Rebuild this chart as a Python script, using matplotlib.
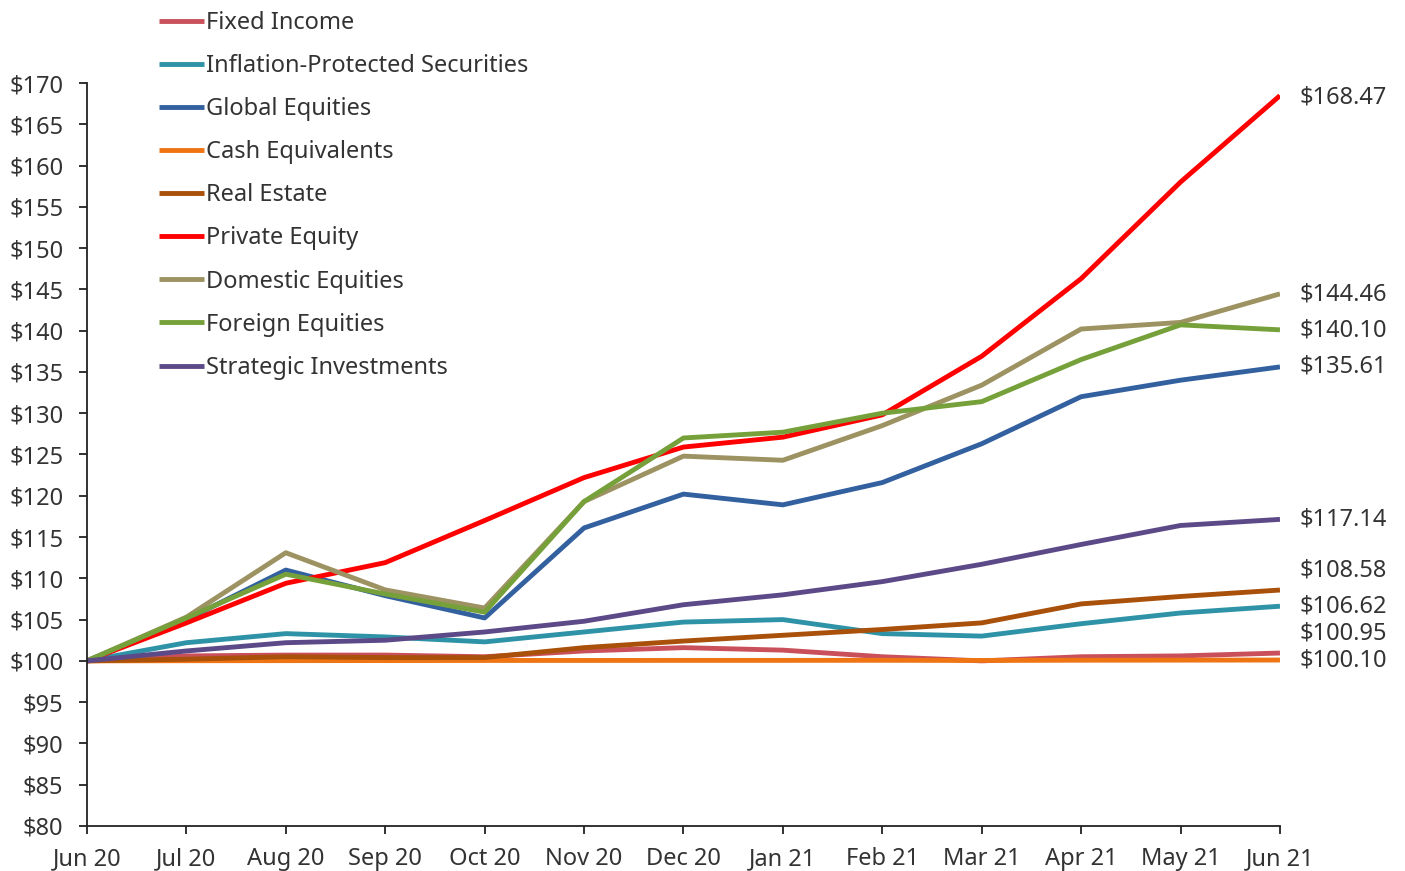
import matplotlib
matplotlib.use('Agg')
import matplotlib.pyplot as plt
from matplotlib.ticker import FuncFormatter, MultipleLocator


months = ['Jun 20', 'Jul 20', 'Aug 20', 'Sep 20', 'Oct 20', 'Nov 20', 'Dec 20',
          'Jan 21', 'Feb 21', 'Mar 21', 'Apr 21', 'May 21', 'Jun 21']

fixed_income = [100.0, 100.6, 100.7, 100.7, 100.5, 101.2, 101.6, 101.3, 100.5,
                100.0, 100.5, 100.6, 100.95]
inflation_protected = [100.0, 102.2, 103.3, 102.9, 102.3, 103.5, 104.7, 105.0,
                       103.3, 103.0, 104.5, 105.8, 106.62]
global_equities = [100.0, 105.0, 111.0, 107.9, 105.2, 116.1, 120.2, 118.9,
                   121.6, 126.3, 132.0, 134.0, 135.61]
cash_equivalents = [100.0, 100.02, 100.03, 100.04, 100.05, 100.05, 100.06,
                    100.06, 100.07, 100.05, 100.08, 100.09, 100.10]
real_estate = [100.0, 100.2, 100.5, 100.4, 100.4, 101.6, 102.4, 103.1, 103.8,
               104.6, 106.9, 107.8, 108.58]
private_equity = [100.0, 104.6, 109.4, 111.9, 117.0, 122.2, 125.9, 127.1,
                  129.8, 136.9, 146.3, 158.0, 168.47]
domestic_equities = [100.0, 105.3, 113.1, 108.6, 106.4, 119.3, 124.8, 124.3,
                     128.5, 133.4, 140.2, 141.0, 144.46]
foreign_equities = [100.0, 105.2, 110.5, 108.1, 105.9, 119.3, 127.0, 127.7,
                    130.0, 131.4, 136.5, 140.7, 140.10]
strategic_investments = [100.0, 101.2, 102.2, 102.5, 103.5, 104.8, 106.8,
                         108.0, 109.6, 111.7, 114.1, 116.4, 117.14]

series = [
    ('Fixed Income', fixed_income, '#C9505A'),
    ('Inflation-Protected Securities', inflation_protected, '#2E93A6'),
    ('Global Equities', global_equities, '#33609F'),
    ('Cash Equivalents', cash_equivalents, '#EE7414'),
    ('Real Estate', real_estate, '#A9500A'),
    ('Private Equity', private_equity, '#FF0000'),
    ('Domestic Equities', domestic_equities, '#9D9262'),
    ('Foreign Equities', foreign_equities, '#76A13A'),
    ('Strategic Investments', strategic_investments, '#5C4A88'),
]

# end labels, nudged apart where lines bunch up near $100
end_label_y = {
    'Private Equity': 168.3,
    'Domestic Equities': 144.4,
    'Foreign Equities': 140.0,
    'Global Equities': 135.6,
    'Strategic Investments': 117.1,
    'Real Estate': 110.9,
    'Inflation-Protected Securities': 106.6,
    'Fixed Income': 103.3,
    'Cash Equivalents': 100.1,
}

TEXT = '#333333'
FS = 17
plt.rcParams['font.family'] = ['Noto Sans', 'DejaVu Sans']
plt.rcParams['font.size'] = FS

fig = plt.figure(figsize=(14.05, 8.71), dpi=100)
ax = fig.add_axes([0.0619, 0.0517, 0.8491, 0.853])

x = list(range(len(months)))
handles = []
for name, vals, color in series:
    line, = ax.plot(x, vals, color=color, linewidth=3.5, label=name,
                    solid_joinstyle='round', solid_capstyle='butt')
    handles.append(line)
    ax.text(x[-1] + 0.2, end_label_y[name], f'${vals[-1]:.2f}',
            ha='left', va='center', color=TEXT, fontsize=FS)

ax.set_xlim(0, len(months) - 1)
ax.set_ylim(80, 170)
ax.yaxis.set_major_locator(MultipleLocator(5))
ax.yaxis.set_major_formatter(FuncFormatter(lambda v, p: f'${v:.0f}'))
ax.set_xticks(x)
ax.set_xticklabels(months)

for side in ['top', 'right']:
    ax.spines[side].set_visible(False)
for side in ['left', 'bottom']:
    ax.spines[side].set_color('#222222')
    ax.spines[side].set_linewidth(1.3)
ax.tick_params(axis='both', direction='out', length=6, width=1.3,
               colors='#222222', labelcolor=TEXT, labelsize=FS)
ax.tick_params(axis='y', pad=11)
ax.tick_params(axis='x', pad=9)

fig.legend(handles=handles, loc='upper left', bbox_to_anchor=(0.098, 1.012),
           frameon=False, fontsize=FS, labelspacing=0.81,
           handlelength=1.9, handletextpad=0.1, labelcolor=TEXT)

fig.savefig('out.png', dpi=100, facecolor='white')
